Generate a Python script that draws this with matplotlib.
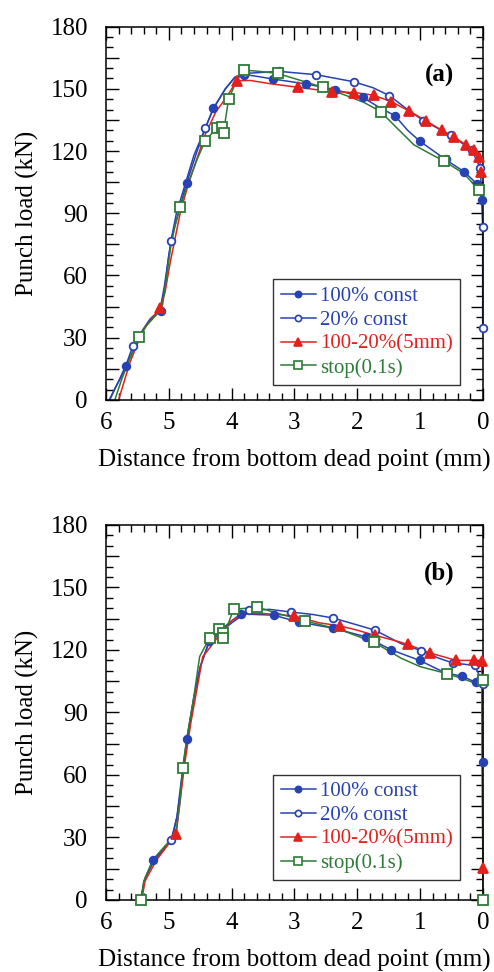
import matplotlib

matplotlib.use("Agg")
import matplotlib.pyplot as plt
from matplotlib.lines import Line2D
from matplotlib.ticker import FuncFormatter, MultipleLocator

plt.rcParams["font.family"] = ["Liberation Serif", "DejaVu Serif"]

LABELS = ["100% const", "20% const", "100-20%(5mm)", "stop(0.1s)"]
COLORS = ["#2743b3", "#2743b3", "#e3211c", "#2e7b36"]

# ---- panel (a): line traces (distance mm, load kN) ----
a_100_d = [5.94, 5.85, 5.76, 5.68, 5.55, 5.41, 5.30, 5.13, 5.06, 5.00, 4.94, 4.85, 4.715, 4.55, 4.42, 4.29, 4.10,
           3.95, 3.82, 3.60, 3.34, 2.81, 2.35, 1.91, 1.65, 1.40, 1.20, 1.00, 0.60, 0.30, 0.10, 0.01]
a_100_L = [0, 6, 11, 16.4, 25, 33.7, 38.6, 43, 55, 70, 80, 90, 104.7, 120, 131, 140.6, 150,
           155.5, 157, 156, 154.7, 152.3, 149.6, 145.8, 141, 137, 130, 124.6, 116, 110, 104.3, 96.3]
a_100_md = [5.68, 5.13, 4.715, 4.29, 3.80, 3.34, 2.81, 2.35, 1.91, 1.40, 1.00, 0.30, 0.10, 0.01]
a_100_mL = [16.4, 43, 104.7, 140.6, 156.5, 154.7, 152.3, 149.6, 145.8, 137, 124.6, 110, 104.3, 96.3]

a_20_d = [5.95, 5.80, 5.68, 5.57, 5.41, 5.30, 5.14, 5.07, 4.965, 4.88, 4.75, 4.60, 4.42, 4.30, 4.10, 3.95,
          3.78, 3.25, 2.66, 2.06, 1.75, 1.49, 1.20, 0.95, 0.51, 0.18, 0.04, 0.005, 0.005]
a_20_L = [0, 9, 17, 26.2, 34, 39, 43.5, 55, 76.8, 90, 103, 118, 131, 140, 150, 155.5,
          157.4, 158.4, 156.8, 153.4, 150.5, 146.7, 140, 134.7, 127.5, 120.5, 111.6, 83.2, 34.7]
a_20_md = [5.57, 4.965, 4.42, 3.78, 3.25, 2.66, 2.06, 1.49, 0.95, 0.59, 0.51, 0.18, 0.04, 0.005, 0.005]
a_20_mL = [26.2, 76.8, 131.1, 157.4, 158.4, 156.8, 153.4, 146.7, 134.7, 116.2, 127.5, 120.5, 111.6, 83.2, 34.7]

a_red_d = [5.80, 5.72, 5.62, 5.50, 5.38, 5.25, 5.14, 5.06, 4.98, 4.90, 4.82, 4.70, 4.56, 4.42, 4.25, 4.08, 3.92,
           3.70, 3.40, 2.94, 2.41, 2.05, 1.74, 1.46, 1.17, 0.90, 0.65, 0.46, 0.27, 0.15, 0.06, 0.03]
a_red_L = [0, 8, 18, 27, 35, 40, 44.2, 52, 66, 78, 90, 103, 115.7, 128, 139, 146, 153.9,
           154, 152.5, 150.7, 148.6, 148.2, 146.9, 143.8, 139.2, 134.4, 129.9, 126.7, 123, 120.3, 117.1, 110]
a_red_md = [5.14, 3.92, 2.94, 2.41, 2.05, 1.74, 1.46, 1.17, 0.90, 0.65, 0.46, 0.27, 0.15, 0.06, 0.03]
a_red_mL = [44.2, 153.9, 150.7, 148.6, 148.2, 146.9, 143.8, 139.2, 134.4, 129.9, 126.7, 123, 120.3, 117.1, 110]

a_stop_d = [5.86, 5.75, 5.62, 5.47, 5.35, 5.20, 5.10, 5.04, 4.97, 4.90, 4.82, 4.70, 4.55, 4.42, 4.24, 4.16, 4.13,
            4.05, 3.92, 3.80, 3.60, 3.27, 2.90, 2.55, 2.20, 1.90, 1.63, 1.40, 1.10, 0.80, 0.62, 0.30, 0.06]
a_stop_L = [0, 10, 20, 30.5, 36, 41, 46, 58, 74, 84, 92.9, 104, 116, 125, 131, 131.7, 128.8,
            144.9, 154, 159, 158.5, 157.4, 154, 150.7, 147, 143.5, 139, 132, 123, 118, 115.2, 109, 101.1]
a_stop_md = [5.47, 4.82, 4.42, 4.24, 4.16, 4.13, 4.05, 3.80, 3.27, 2.55, 1.63, 0.62, 0.06]
a_stop_mL = [30.5, 92.9, 125, 131, 131.7, 128.8, 144.9, 159, 157.4, 150.7, 139, 115.2, 101.1]

# ---- panel (b) ----
b_100_d = [5.45, 5.40, 5.38, 5.25, 5.10, 4.95, 4.87, 4.80, 4.715, 4.61, 4.50, 4.36, 4.20, 4.00, 3.85, 3.60,
           3.33, 2.93, 2.39, 1.86, 1.47, 1.01, 0.60, 0.33, 0.11, 0.01, 0.0]
b_100_L = [0, 8, 10.4, 19.2, 24, 29, 40, 58, 77.3, 96, 112, 124.1, 129, 134, 137.4, 137,
           136.7, 133.4, 130.5, 126.3, 120.2, 115, 109, 107.4, 104.4, 103, 66.3]
b_100_md = [5.25, 4.715, 4.36, 3.85, 3.33, 2.93, 2.39, 1.86, 1.47, 1.01, 0.33, 0.11, 0.0]
b_100_mL = [19.2, 77.3, 124.1, 137.4, 136.7, 133.4, 130.5, 126.3, 120.2, 115, 107.4, 104.4, 66.3]

b_20_d = [5.45, 5.38, 5.25, 4.965, 4.87, 4.78, 4.70, 4.60, 4.50, 4.38, 4.20, 4.00, 3.72, 3.40, 3.05, 2.70,
          2.38, 2.00, 1.72, 1.30, 0.98, 0.70, 0.47, 0.13, 0.0]
b_20_L = [0, 10, 18, 28.7, 40, 60, 78, 97, 112, 122, 128, 133, 139, 139.5, 138.2, 137,
          135.3, 132, 129.5, 123, 119.6, 116, 113.7, 112.6, 103.8]
b_20_md = [4.965, 3.72, 3.05, 2.38, 1.72, 0.98, 0.47, 0.13, 0.0]
b_20_mL = [28.7, 139, 138.2, 135.3, 129.5, 119.6, 113.7, 112.6, 103.8]

b_red_d = [5.43, 5.38, 5.20, 5.00, 4.885, 4.83, 4.75, 4.65, 4.56, 4.46, 4.35, 4.20, 4.00, 3.80, 3.50, 3.01,
           2.60, 2.28, 2.00, 1.72, 1.40, 1.20, 0.84, 0.60, 0.43, 0.15, 0.02, 0.0]
b_red_L = [0, 9, 19, 27, 31.5, 45, 65, 85, 100, 116.8, 121, 127, 134, 137.5, 137.5, 136.4,
           133, 131.6, 129.5, 127, 124.5, 122.7, 118.5, 116.5, 115, 115, 114.5, 15.3]
b_red_md = [4.885, 3.01, 2.28, 1.72, 1.20, 0.84, 0.43, 0.15, 0.02, 0.0]
b_red_mL = [31.5, 136.4, 131.6, 127, 122.7, 118.5, 115, 115, 114.5, 15.3]

b_stop_d = [5.44, 5.40, 5.25, 5.00, 4.88, 4.82, 4.78, 4.70, 4.61, 4.51, 4.35, 4.20, 4.14, 4.14, 4.05, 3.97,
            3.59, 3.20, 2.83, 2.30, 1.74, 1.30, 1.00, 0.58, 0.30, 0.12, 0.07, 0.02, 0.0]
b_stop_L = [0, 9, 19.5, 28, 34, 48, 63.5, 80, 96, 116.8, 125.9, 129.9, 128, 125.6, 133, 139.5,
            140.5, 137, 133.9, 130, 123.8, 116, 112, 108.7, 106, 104, 108, 105.5, 0]
b_stop_md = [5.44, 4.78, 4.35, 4.20, 4.14, 4.14, 3.97, 3.59, 2.83, 1.74, 0.58, 0.005, 0.005]
b_stop_mL = [0, 63.5, 125.9, 129.9, 128, 125.6, 139.5, 140.5, 133.9, 123.8, 108.7, 105.5, 0]

MARKERS = [("o", "fill", 5.5), ("o", "none", 5.5), ("^", "fill", 6.5), ("s", "none", 6.5)]


def draw_panel(ax, series, tag, leg_y):
    for (ld, lL, md, mL), col, (mk, fill, ms) in zip(series, COLORS, MARKERS):
        ax.plot(ld, lL, color=col, lw=1.1, zorder=2, clip_on=False)
        face = col if fill == "fill" else "white"
        ax.plot(md, mL, ls="none", marker=mk, ms=ms, mfc=face, mec=col, mew=1.3,
                zorder=3, clip_on=False)
    ax.set_xlim(6, 0)
    ax.set_ylim(0, 180)
    ax.xaxis.set_major_locator(MultipleLocator(1))
    ax.xaxis.set_minor_locator(MultipleLocator(0.2))
    ax.yaxis.set_major_locator(MultipleLocator(15))
    ax.yaxis.set_minor_locator(MultipleLocator(5))
    ax.yaxis.set_major_formatter(FuncFormatter(lambda v, p: f"{v:.0f}" if round(v) % 30 == 0 else ""))
    ax.xaxis.set_major_formatter(FuncFormatter(lambda v, p: f"{v:.0f}"))
    ax.tick_params(which="both", direction="in", top=True, right=True, width=1.0)
    ax.tick_params(which="major", length=9, labelsize=18)
    ax.tick_params(axis="y", which="major", pad=13)
    ax.tick_params(axis="x", which="major", pad=9)
    ax.tick_params(which="minor", length=5)
    for s in ax.spines.values():
        s.set_linewidth(1.1)
    ax.set_xlabel("Distance from bottom dead point (mm)", fontsize=18, labelpad=10)
    ax.set_ylabel("Punch load (kN)", fontsize=18, labelpad=8)
    ax.text(0.885, 0.87, tag, transform=ax.transAxes, fontsize=18, fontweight="bold",
            ha="center", va="center")
    handles = []
    for col, (mk, fill, ms) in zip(COLORS, MARKERS):
        face = col if fill == "fill" else "white"
        handles.append(Line2D([0], [0], color=col, lw=1.1, marker=mk, ms=ms - 1, mfc=face,
                              mec=col, mew=1.2))
    leg = ax.legend(handles, LABELS, loc="lower left", bbox_to_anchor=(0.444, leg_y),
                    fontsize=15, labelcolor="linecolor", frameon=True, fancybox=False,
                    edgecolor="black", handlelength=1.7, handletextpad=0.2,
                    labelspacing=0.2, borderpad=0.35, borderaxespad=0)
    leg.get_frame().set_linewidth(1.0)


fig = plt.figure(figsize=(4.94, 9.72), dpi=100)
ax_a = fig.add_axes([0.2146, 0.5885, 0.7631, 0.3842])
ax_b = fig.add_axes([0.2146, 0.0741, 0.7631, 0.3858])

draw_panel(ax_a, [(a_100_d, a_100_L, a_100_md, a_100_mL), (a_20_d, a_20_L, a_20_md, a_20_mL),
                  (a_red_d, a_red_L, a_red_md, a_red_mL), (a_stop_d, a_stop_L, a_stop_md, a_stop_mL)],
           "(a)", 0.04)
draw_panel(ax_b, [(b_100_d, b_100_L, b_100_md, b_100_mL), (b_20_d, b_20_L, b_20_md, b_20_mL),
                  (b_red_d, b_red_L, b_red_md, b_red_mL), (b_stop_d, b_stop_L, b_stop_md, b_stop_mL)],
           "(b)", 0.053)

fig.savefig("out.png", dpi=100)
